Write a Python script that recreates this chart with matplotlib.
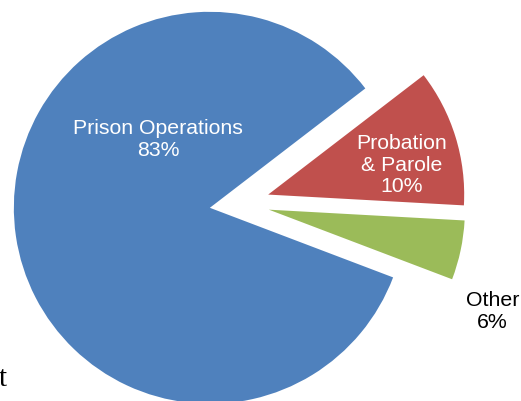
import matplotlib.pyplot as plt

# Budget shares (labels as printed)
categories = ["Prison Operations", "Probation\n& Parole", "Other"]
shares = [83.8, 11.3, 4.9]
share_labels = ["83%", "10%", "6%"]
slice_colors = ["#4F81BD", "#C0504D", "#9BBB59"]
label_colors = ["white", "white", "black"]

# Label positions in data units (pie radius = 1)
label_xy = [(-0.416, 0.327), (0.827, 0.194), (1.291, -0.55)]


def plot_pie():
    fig = plt.figure(figsize=(5.21, 4.01), dpi=100)
    ax = fig.add_axes([0, 0, 1, 1])

    ax.pie(shares, colors=slice_colors, explode=[0.153] * len(shares),
           startangle=-20.8, counterclock=False,
           wedgeprops={"linewidth": 0})

    # Slice labels
    for i in range(len(categories)):
        ax.text(label_xy[i][0], label_xy[i][1],
                "{}\n{}".format(categories[i], share_labels[i]),
                ha="center", va="center", color=label_colors[i],
                fontsize=15.3, family="Liberation Sans", linespacing=1.17)

    # stray caption letter cut off at the left edge
    ax.text(-1.227, -0.931, "t", ha="left", va="baseline", color="black",
            fontsize=21, family="Liberation Serif")

    ax.set_aspect("auto")
    ax.set_xlim(-1.222, 1.436)
    ax.set_ylim(-1.008, 1.038)
    ax.axis("off")

    fig.savefig("out.png", dpi=100)


if __name__ == '__main__':
    plot_pie()
